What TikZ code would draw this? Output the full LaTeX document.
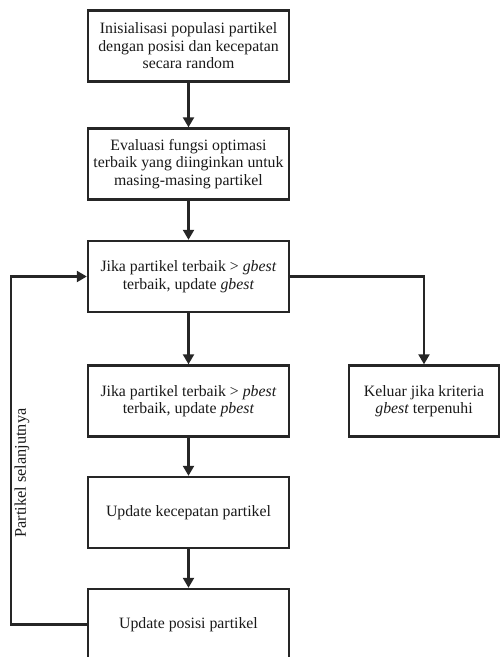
\documentclass[tikz,border=0pt]{standalone}
\usepackage{fontspec}
\setmainfont{Liberation Serif}
\usetikzlibrary{arrows.meta}

\tikzset{
  box/.style={draw=black!85, line width=2.4pt, minimum width=201pt, minimum height=71pt,
    align=center, inner sep=2pt, text=black!90, font=\fontsize{15.8}{17.5}\selectfont},
  flow/.style={draw=black!85, line width=2.2pt, -{Triangle[length=10pt,width=11pt]}},
}

\begin{document}
\begin{tikzpicture}[x=1pt,y=-1pt]
\useasboundingbox (0,0) rectangle (501,657);

\node[box] (init) at (188.5,46) {Inisialisasi populasi partikel\\dengan posisi dan kecepatan\\secara random};
\node[box] (eval) at (188.5,164) {Evaluasi fungsi optimasi\\terbaik yang diinginkan untuk\\masing-masing partikel};
\node[box] (gbest) at (188.5,276.5) {Jika partikel terbaik > \textit{gbest}\\terbaik, update \textit{gbest}};
\node[box] (pbest) at (188.5,401) {Jika partikel terbaik > \textit{pbest}\\terbaik, update \textit{pbest}};
\node[box] (vel) at (188.5,512.5) {Update kecepatan partikel};
\node[box] (pos) at (188.5,624.5) {Update posisi partikel};
\node[box, minimum width=150pt] (exit) at (424,401) {Keluar jika kriteria\\\textit{gbest} terpenuhi};

\coordinate (loop) at (11,624.5);
\node[rotate=90, text=black!90, font=\fontsize{16.3}{18}\selectfont] (next) at (22,473) {Partikel selanjutnya};

\draw[flow] (init) -- (eval);
\draw[flow] (eval) -- (gbest);
\draw[flow] (gbest) -- (pbest);
\draw[flow] (pbest) -- (vel);
\draw[flow] (vel) -- (pos);
\draw[flow] (gbest.east) -| (exit.north);
\draw[flow] (pos.west) -- (loop) |- (gbest.west);

\end{tikzpicture}
\end{document}
